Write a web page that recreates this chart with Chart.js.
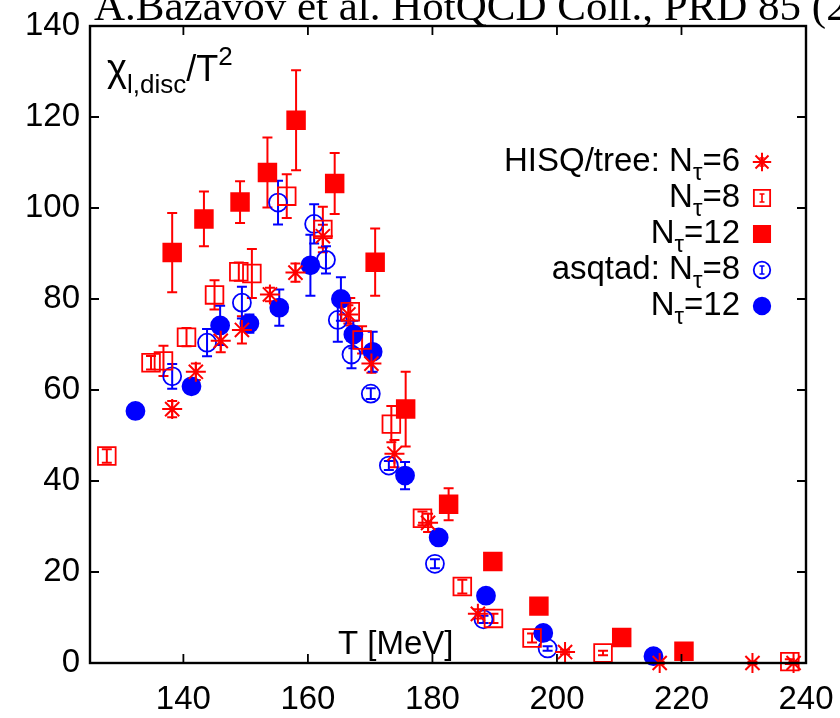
<!DOCTYPE html>
<html lang="en">
<head>
<meta charset="UTF-8">
<title>Disconnected chiral susceptibility</title>
<script src="https://cdn.jsdelivr.net/npm/chart.js"></script>
<style>
    html, body { margin: 0; padding: 0; background: #fff; overflow: hidden; }
    #plot { display: block; }
</style>
</head>
<body>
<canvas id="plot" width="840" height="718"></canvas>
<script>
// axis ticks
const xTicks = [140, 160, 180, 200, 220, 240];
const yTicks = [0, 20, 40, 60, 80, 100, 120, 140];

// HISQ/tree, N_tau = 6
const hisq6T   = [138.2, 142.0, 146.0, 149.4, 153.9, 158.0, 162.4, 166.5, 170.2, 173.9, 179.3, 187.3, 201.3, 216.5, 231.4, 238.0];
const hisq6Chi = [55.8, 64.0, 70.8, 73.2, 81.0, 85.8, 93.8, 76.6, 65.8, 46.0, 30.8, 10.8, 2.4, 0.0, 0.0, 0.0];
const hisq6Err = [1.8, 1.8, 2.5, 3.0, 1.5, 2.0, 2.5, 2.0, 2.0, 3.0, 2.0, 1.0, 0.5, 0.3, 0.3, 0.3];

// HISQ/tree, N_tau = 8
const hisq8T   = [127.7, 134.8, 136.8, 140.5, 145.0, 148.9, 151.0, 156.6, 162.4, 166.8, 168.7, 173.4, 178.4, 184.8, 189.8, 196.0, 207.4, 237.4];
const hisq8Chi = [45.5, 66.0, 66.4, 71.6, 80.9, 86.0, 85.6, 102.6, 95.3, 77.2, 71.0, 52.5, 31.8, 16.8, 9.8, 5.5, 2.2, 0.3];
const hisq8Err = [1.5, 1.5, 3.3, 2.0, 3.2, 2.0, 5.4, 4.8, 5.0, 3.0, 3.0, 4.0, 1.5, 1.5, 1.0, 1.0, 0.5, 0.5];

// HISQ/tree, N_tau = 12
const hisq12T   = [138.2, 143.3, 149.1, 153.5, 158.1, 164.3, 170.8, 175.7, 182.6, 189.7, 197.1, 210.4, 220.4];
const hisq12Chi = [90.2, 97.6, 101.3, 107.8, 119.3, 105.4, 88.1, 55.8, 34.9, 22.3, 12.5, 5.6, 2.6];
const hisq12Err = [8.7, 6.0, 4.6, 7.7, 11.0, 6.7, 7.4, 8.2, 3.5, 1.2, 0.6, 0.6, 0.5];

// asqtad, N_tau = 8
const asq8T   = [138.2, 143.8, 149.4, 155.2, 161.0, 162.9, 164.8, 167.0, 170.1, 173.0, 180.4, 188.2, 198.5];
const asq8Chi = [63.0, 70.4, 79.2, 101.2, 96.5, 88.6, 75.4, 67.8, 59.2, 43.4, 21.8, 9.6, 3.2];
const asq8Err = [2.7, 3.0, 3.5, 4.8, 4.3, 3.0, 4.8, 3.0, 1.2, 1.0, 1.0, 0.8, 0.5];

// asqtad, N_tau = 12
const asq12T   = [132.3, 141.3, 145.9, 150.6, 155.4, 160.4, 165.3, 167.3, 170.4, 175.6, 181.0, 188.6, 197.8, 215.5];
const asq12Chi = [55.4, 60.8, 74.2, 74.6, 78.1, 87.4, 80.0, 72.2, 68.4, 41.2, 27.6, 14.8, 6.6, 1.5];
const asq12Err = [1.2, 1.0, 4.3, 2.0, 4.0, 6.7, 4.8, 3.0, 4.4, 3.0, 1.0, 1.0, 0.8, 0.5];

// legend text: [prefix, subscript, suffix]
const legendLabels = [
    ['HISQ/tree: N', 'τ', '=6'],
    ['N', 'τ', '=8'],
    ['N', 'τ', '=12'],
    ['asqtad: N', 'τ', '=8'],
    ['N', 'τ', '=12']
];
const titleText = 'A.Bazavov et al. HotQCD Coll., PRD 85 (2012)';

const RED = '#ff0000';
const BLUE = '#0000ff';
const FONT = "'Liberation Sans', Arial, sans-serif";

function series(label, T, chi, err, style, color, filled, radius) {
    return {
        label: label,
        data: T.map((t, i) => ({ x: t, y: chi[i] })),
        errors: err,
        pointStyle: style,
        pointRadius: radius,
        pointHoverRadius: radius,
        pointBorderWidth: style === 'star' ? 2 : 1.8,
        borderColor: color,
        backgroundColor: filled ? color : 'rgba(0,0,0,0)',
        showLine: false,
        clip: false
    };
}

const datasets = [
    series('HISQ/tree Nt=6', hisq6T, hisq6Chi, hisq6Err, 'star', RED, false, 10),
    series('HISQ/tree Nt=8', hisq8T, hisq8Chi, hisq8Err, 'rect', RED, false, 12.5),
    series('HISQ/tree Nt=12', hisq12T, hisq12Chi, hisq12Err, 'rect', RED, true, 12.5),
    series('asqtad Nt=8', asq8T, asq8Chi, asq8Err, 'circle', BLUE, false, 9),
    series('asqtad Nt=12', asq12T, asq12Chi, asq12Err, 'circle', BLUE, true, 9)
];

// draws a text made of runs [text, size, dy]
function richText(ctx, runs, x, y, align) {
    let total = 0;
    runs.forEach(r => { ctx.font = r[1] + 'px ' + FONT; total += ctx.measureText(r[0]).width; });
    let cx = align === 'right' ? x - total : x;
    ctx.textAlign = 'left';
    ctx.textBaseline = 'alphabetic';
    runs.forEach(r => {
        ctx.font = r[1] + 'px ' + FONT;
        ctx.fillText(r[0], cx, y + r[2]);
        cx += ctx.measureText(r[0]).width;
    });
}

function errorBar(ctx, x, y1, y2, cap) {
    ctx.beginPath();
    ctx.moveTo(x, y1); ctx.lineTo(x, y2);
    ctx.moveTo(x - cap, y1); ctx.lineTo(x + cap, y1);
    ctx.moveTo(x - cap, y2); ctx.lineTo(x + cap, y2);
    ctx.stroke();
}

const errorBars = {
    id: 'errorBars',
    beforeDatasetsDraw(chart) {
        const ctx = chart.ctx, xs = chart.scales.x, ys = chart.scales.y;
        ctx.save();
        ctx.lineWidth = 2;
        chart.data.datasets.forEach(ds => {
            ctx.strokeStyle = ds.borderColor;
            ds.data.forEach((p, i) => {
                const e = ds.errors[i];
                const px = xs.getPixelForValue(p.x);
                errorBar(ctx, px, ys.getPixelForValue(p.y + e), ys.getPixelForValue(p.y - e), 5);
            });
        });
        ctx.restore();
    }
};

const frame = {
    id: 'frame',
    afterDraw(chart) {
        const ctx = chart.ctx, a = chart.chartArea;
        const xs = chart.scales.x, ys = chart.scales.y;
        const tl = 9;
        ctx.save();
        ctx.strokeStyle = '#000';
        ctx.lineWidth = 1.8;
        ctx.beginPath();
        xTicks.forEach(v => {
            const px = xs.getPixelForValue(v);
            ctx.moveTo(px, a.bottom); ctx.lineTo(px, a.bottom - tl);
            ctx.moveTo(px, a.top); ctx.lineTo(px, a.top + tl);
        });
        yTicks.forEach(v => {
            const py = ys.getPixelForValue(v);
            ctx.moveTo(a.left, py); ctx.lineTo(a.left + tl, py);
            ctx.moveTo(a.right, py); ctx.lineTo(a.right - tl, py);
        });
        ctx.stroke();
        ctx.lineWidth = 2.4;
        ctx.strokeRect(a.left, a.top, a.right - a.left, a.bottom - a.top);

        // texts
        ctx.fillStyle = '#000';
        ctx.font = "43px 'Liberation Serif', 'Times New Roman', serif";
        ctx.textAlign = 'left';
        ctx.textBaseline = 'alphabetic';
        ctx.fillText(titleText, 94, 20);

        richText(ctx, [['χ', 38, 0], ['l,disc', 26, 12], ['/T', 36, 0], ['2', 26, -16]], a.left + 17, a.top + 55, 'left');
        richText(ctx, [['T [MeV]', 33, 0]], a.left + 248, a.bottom - 9, 'left');

        // legend
        const tx = a.right - 66, sx = a.right - 44;
        legendLabels.forEach((lab, i) => {
            const base = a.top + 145 + i * 36;
            ctx.fillStyle = '#000';
            richText(ctx, [[lab[0], 33, 0], [lab[1], 24, 9], [lab[2], 33, 0]], tx, base, 'right');
            const ds = datasets[i];
            const sy = base - 9;
            ctx.strokeStyle = ds.borderColor;
            ctx.fillStyle = ds.backgroundColor;
            ctx.lineWidth = 1.6;
            errorBar(ctx, sx, sy - 4, sy + 4, 2.5);
            ctx.lineWidth = ds.pointBorderWidth;
            Chart.helpers.drawPoint(ctx, {
                pointStyle: ds.pointStyle,
                radius: ds.pointRadius * 0.92,
                rotation: 0,
                borderWidth: ds.pointBorderWidth
            }, sx, sy);
        });
        ctx.restore();
    }
};

Chart.defaults.font.family = FONT;
Chart.defaults.color = '#000';

new Chart(document.getElementById('plot').getContext('2d'), {
    type: 'scatter',
    data: { datasets: datasets },
    options: {
        responsive: false,
        animation: false,
        devicePixelRatio: 1,
        layout: { padding: { top: 26, right: 34, left: 0, bottom: 0 } },
        plugins: { legend: { display: false }, tooltip: { enabled: false } },
        scales: {
            x: {
                type: 'linear', min: 125, max: 240,
                grid: { display: false, drawTicks: false },
                border: { display: false },
                afterBuildTicks: s => { s.ticks = xTicks.map(v => ({ value: v })); },
                afterFit: s => { s.height = 55; s.paddingLeft = 0; s.paddingRight = 0; },
                ticks: { font: { size: 33 }, padding: 17, maxRotation: 0 }
            },
            y: {
                type: 'linear', min: 0, max: 140,
                grid: { display: false, drawTicks: false },
                border: { display: false },
                afterBuildTicks: s => { s.ticks = yTicks.map(v => ({ value: v })); },
                afterFit: s => { s.width = 90; s.paddingTop = 0; s.paddingBottom = 0; },
                ticks: { font: { size: 33 }, padding: 10 }
            }
        }
    },
    plugins: [errorBars, frame]
});
</script>
</body>
</html>
